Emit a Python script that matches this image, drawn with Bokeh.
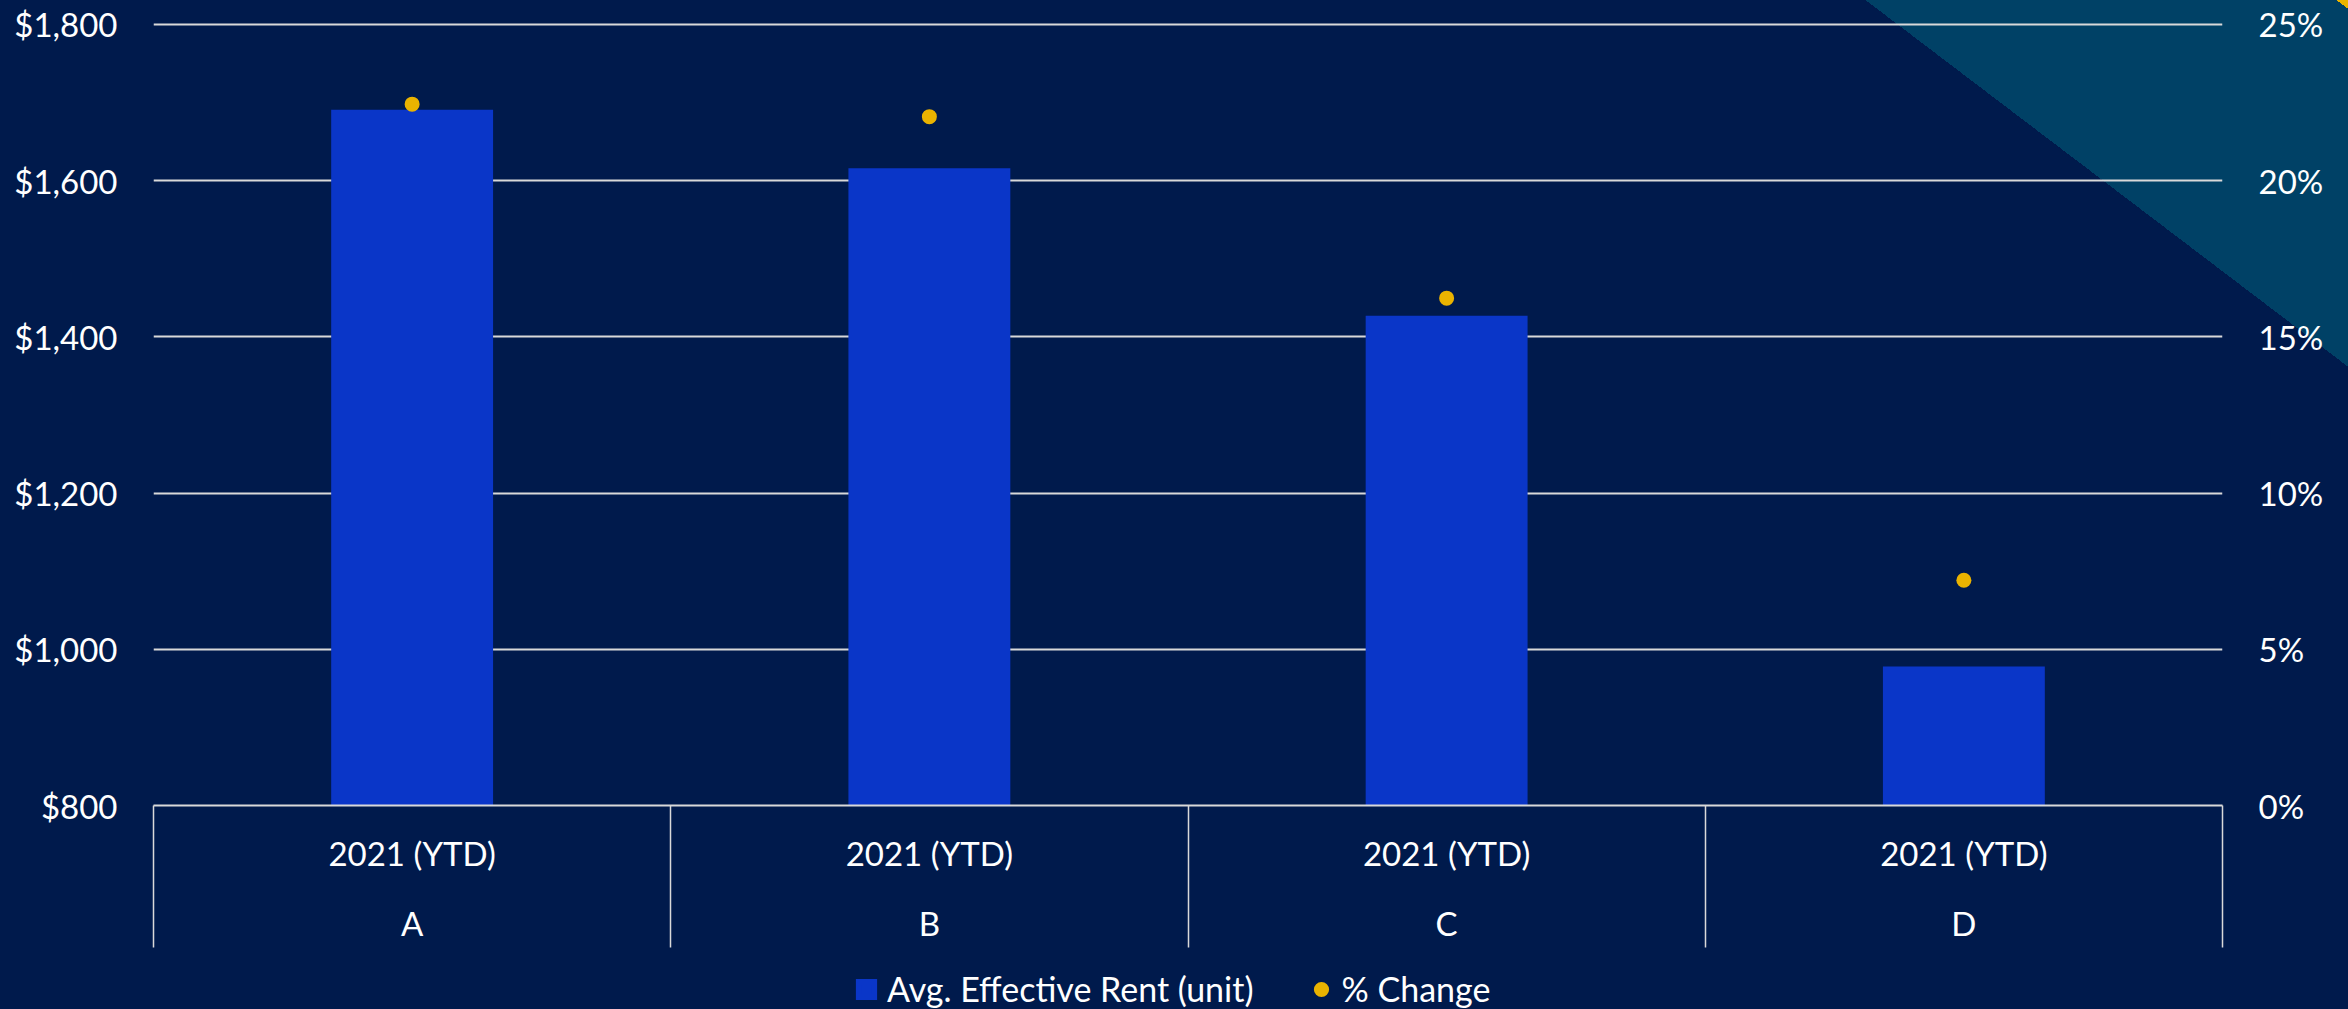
from bokeh.plotting import figure
from bokeh.layouts import column
from bokeh.models import (Range1d, LinearAxis, FixedTicker, NumeralTickFormatter,
                          PrintfTickFormatter, Legend, LegendItem, ColumnDataSource, Grid)
from bokeh.embed import file_html
from bokeh.resources import INLINE

# ---- data ----
categories = ["A", "B", "C", "D"]
period_label = "2021 (YTD)"
avg_rent = [1691, 1616, 1427, 978]          # Avg. Effective Rent (unit), $
pct_change = [22.45, 22.05, 16.24, 7.21]    # % Change
rent_ticks = [800, 1000, 1200, 1400, 1600, 1800]
pct_ticks = [0, 5, 10, 15, 20, 25]

# ---- style ----
BG = "#001A4C"
ACCENT = "#004166"
GOLD = "#EAB300"
BAR = "#0A36C8"
LINE = "#D9D9D9"
FONT = "Lato"
FSIZE = "33px"
DIVIDER = 142      # length of the table cell dividers below the baseline
TOP_PAD = 0.00512  # headroom so the top gridline is not clipped
W = 2348
MAIN_H = 960
KEY_H = 49

idx = list(range(len(categories)))
source = ColumnDataSource(dict(x=idx, cat=categories, rent=avg_rent, pct=pct_change))

rent_span = rent_ticks[-1] - rent_ticks[0]
pct_span = pct_ticks[-1] - pct_ticks[0]

p = figure(width=W, height=MAIN_H, output_backend="svg", toolbar_location=None,
           x_range=Range1d(-0.5, len(categories) - 0.5),
           y_range=Range1d(rent_ticks[0], rent_ticks[-1] + TOP_PAD * rent_span),
           x_axis_location=None, y_axis_location=None,
           min_border_left=153, min_border_right=126,
           min_border_top=20, min_border_bottom=MAIN_H - 805,
           background_fill_color=None, border_fill_color=None,
           outline_line_color=None)
p.extra_y_ranges = {"pct": Range1d(pct_ticks[0], pct_ticks[-1] + TOP_PAD * pct_span)}

# drop the automatic grids; only horizontal rent gridlines are wanted
p.center = [r for r in p.center if not isinstance(r, Grid)]

p.add_layout(Grid(dimension=1, ticker=FixedTicker(ticks=rent_ticks),
                  grid_line_color=LINE, grid_line_width=2))

bars = p.vbar(x="x", top="rent", bottom=rent_ticks[0], width=0.313, source=source,
              fill_color=BAR, line_color=None)
dots = p.scatter(x="x", y="pct", y_range_name="pct", size=15, source=source,
                 fill_color=GOLD, line_color=None)


def style_axis(ax, standoff):
    ax.major_tick_out = 0
    ax.major_tick_in = 0
    ax.minor_tick_out = 0
    ax.minor_tick_in = 0
    ax.major_tick_line_color = None
    ax.minor_tick_line_color = None
    ax.axis_line_color = None
    ax.major_label_standoff = standoff
    ax.major_label_text_font = FONT
    ax.major_label_text_font_size = FSIZE
    ax.major_label_text_color = "white"


left = LinearAxis(ticker=FixedTicker(ticks=rent_ticks),
                  formatter=NumeralTickFormatter(format="$0,0"))
style_axis(left, 36)
p.add_layout(left, "left")

right = LinearAxis(y_range_name="pct", ticker=FixedTicker(ticks=pct_ticks),
                   formatter=PrintfTickFormatter(format="%d%%"))
style_axis(right, 36)
p.add_layout(right, "right")

# category table: period row with cell dividers, then category row
boundaries = [i - 0.5 for i in range(len(categories) + 1)]
period_axis = LinearAxis(ticker=FixedTicker(ticks=idx, minor_ticks=boundaries),
                         major_label_overrides={i: period_label for i in idx})
style_axis(period_axis, 27 - DIVIDER)
period_axis.axis_line_color = LINE
period_axis.axis_line_width = 2
period_axis.minor_tick_out = DIVIDER
period_axis.minor_tick_line_color = LINE
period_axis.minor_tick_line_width = 1.5
p.add_layout(period_axis, "below")

cat_axis = LinearAxis(ticker=FixedTicker(ticks=idx, minor_ticks=[]),
                      major_label_overrides={i: c for i, c in zip(idx, categories)})
style_axis(cat_axis, 27)
p.add_layout(cat_axis, "below")

# ---- legend strip under the chart ----
# the strip's y range (0..1) lies far below the series values, so the key
# renderers only ever show up as legend swatches
key = figure(width=W, height=KEY_H, output_backend="svg", toolbar_location=None,
             x_range=p.x_range, y_range=Range1d(0, 1),
             x_axis_location=None, y_axis_location=None, min_border=0,
             background_fill_color=None, border_fill_color=None,
             outline_line_color=None)
key.center = [r for r in key.center if not isinstance(r, Grid)]

bar_key = key.scatter(x="x", y="rent", source=source, marker="square", size=15,
                      fill_color=BAR, line_color=BAR, line_width=6, line_join="miter")
dot_key = key.scatter(x="x", y="rent", source=source, marker="circle", size=15,
                      fill_color=GOLD, line_color=None)

legend = Legend(items=[LegendItem(label="Avg. Effective Rent (unit)", renderers=[bar_key], index=0),
                       LegendItem(label="% Change", renderers=[dot_key], index=0)],
                orientation="horizontal", location=(694, 0),
                background_fill_alpha=0, border_line_color=None,
                label_text_color="white", label_text_font=FONT,
                label_text_font_size="34px",
                glyph_width=38, glyph_height=38, label_standoff=2,
                spacing=48, padding=0, margin=0)
key.add_layout(legend)

# slide backdrop with the corner accent band
page = column(p, key, spacing=0, styles={
    "background": (f"linear-gradient(37.23deg, {BG} 1932px, {ACCENT} 1932px, "
                   f"{ACCENT} 2217px, {GOLD} 2217px)")
})

open("out.html", "w").write(file_html(page, INLINE))
